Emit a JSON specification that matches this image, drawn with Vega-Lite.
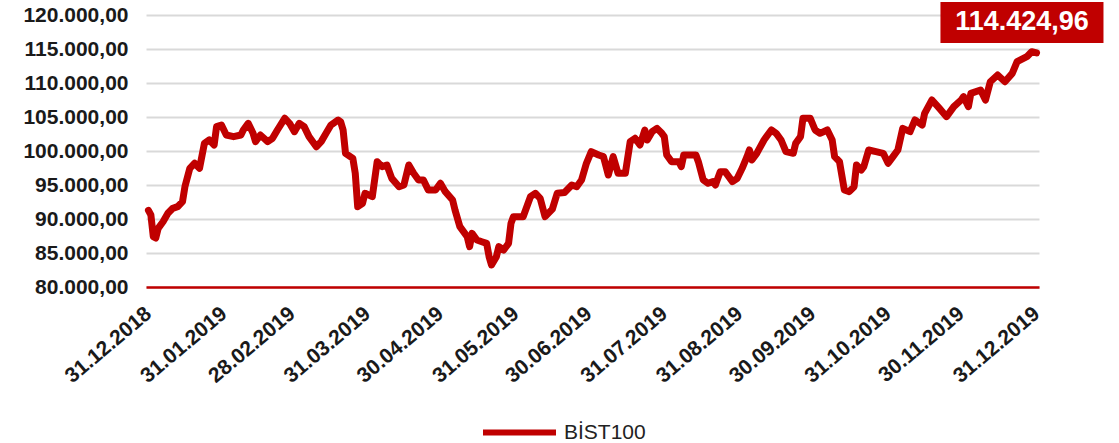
{
  "$schema": "https://vega.github.io/schema/vega-lite/v6.json",
  "width": 893,
  "height": 272,
  "autosize": {"type": "none"},
  "padding": {"left": 146, "top": 15, "right": 80, "bottom": 156},
  "background": "white",
  "config": {
    "view": {"stroke": null},
    "locale": {"number": {"decimal": ",", "thousands": ".", "grouping": [3], "currency": ["", " TL"]}},
    "font": "Liberation Sans"
  },
  "data": {"values": [
    {"date": "2018-12-31", "value": 91270},
    {"date": "2019-01-01", "value": 90600},
    {"date": "2019-01-02", "value": 87400},
    {"date": "2019-01-03", "value": 87200},
    {"date": "2019-01-04", "value": 88630},
    {"date": "2019-01-06", "value": 89600},
    {"date": "2019-01-08", "value": 90840},
    {"date": "2019-01-10", "value": 91570},
    {"date": "2019-01-12", "value": 91810},
    {"date": "2019-01-14", "value": 92550},
    {"date": "2019-01-15", "value": 94750},
    {"date": "2019-01-17", "value": 97450},
    {"date": "2019-01-19", "value": 98190},
    {"date": "2019-01-21", "value": 97450},
    {"date": "2019-01-23", "value": 101130},
    {"date": "2019-01-25", "value": 101620},
    {"date": "2019-01-27", "value": 100880},
    {"date": "2019-01-28", "value": 103580},
    {"date": "2019-01-30", "value": 103820},
    {"date": "2019-02-01", "value": 102350},
    {"date": "2019-02-04", "value": 102110},
    {"date": "2019-02-07", "value": 102350},
    {"date": "2019-02-08", "value": 103090},
    {"date": "2019-02-10", "value": 104070},
    {"date": "2019-02-12", "value": 102600},
    {"date": "2019-02-13", "value": 101380},
    {"date": "2019-02-15", "value": 102350},
    {"date": "2019-02-18", "value": 101380},
    {"date": "2019-02-20", "value": 101870},
    {"date": "2019-02-22", "value": 103090},
    {"date": "2019-02-25", "value": 104810},
    {"date": "2019-02-27", "value": 104070},
    {"date": "2019-03-01", "value": 102840},
    {"date": "2019-03-03", "value": 104070},
    {"date": "2019-03-05", "value": 103580},
    {"date": "2019-03-07", "value": 102110},
    {"date": "2019-03-10", "value": 100630},
    {"date": "2019-03-12", "value": 101380},
    {"date": "2019-03-14", "value": 102600},
    {"date": "2019-03-16", "value": 103820},
    {"date": "2019-03-19", "value": 104560},
    {"date": "2019-03-20", "value": 104300},
    {"date": "2019-03-21", "value": 103090},
    {"date": "2019-03-22", "value": 99660},
    {"date": "2019-03-25", "value": 98930},
    {"date": "2019-03-26", "value": 96720},
    {"date": "2019-03-27", "value": 91810},
    {"date": "2019-03-29", "value": 92310},
    {"date": "2019-03-30", "value": 93780},
    {"date": "2019-04-02", "value": 93280},
    {"date": "2019-04-04", "value": 98430},
    {"date": "2019-04-06", "value": 97700},
    {"date": "2019-04-08", "value": 97940},
    {"date": "2019-04-10", "value": 95980},
    {"date": "2019-04-13", "value": 94750},
    {"date": "2019-04-15", "value": 95000},
    {"date": "2019-04-17", "value": 97940},
    {"date": "2019-04-19", "value": 96720},
    {"date": "2019-04-21", "value": 95740},
    {"date": "2019-04-23", "value": 95740},
    {"date": "2019-04-25", "value": 94260},
    {"date": "2019-04-28", "value": 94260},
    {"date": "2019-04-30", "value": 95250},
    {"date": "2019-05-02", "value": 94020},
    {"date": "2019-05-05", "value": 92790},
    {"date": "2019-05-06", "value": 91320},
    {"date": "2019-05-08", "value": 88870},
    {"date": "2019-05-11", "value": 87400},
    {"date": "2019-05-12", "value": 85930},
    {"date": "2019-05-13", "value": 87890},
    {"date": "2019-05-15", "value": 86910},
    {"date": "2019-05-17", "value": 86660},
    {"date": "2019-05-19", "value": 86420},
    {"date": "2019-05-20", "value": 84460},
    {"date": "2019-05-21", "value": 83240},
    {"date": "2019-05-23", "value": 84460},
    {"date": "2019-05-24", "value": 85930},
    {"date": "2019-05-26", "value": 85440},
    {"date": "2019-05-28", "value": 86420},
    {"date": "2019-05-29", "value": 89360},
    {"date": "2019-05-30", "value": 90340},
    {"date": "2019-06-03", "value": 90340},
    {"date": "2019-06-06", "value": 93280},
    {"date": "2019-06-08", "value": 93780},
    {"date": "2019-06-10", "value": 93040},
    {"date": "2019-06-12", "value": 90340},
    {"date": "2019-06-15", "value": 91450},
    {"date": "2019-06-17", "value": 93780},
    {"date": "2019-06-20", "value": 93900},
    {"date": "2019-06-23", "value": 95000},
    {"date": "2019-06-25", "value": 94750},
    {"date": "2019-06-27", "value": 95740},
    {"date": "2019-06-29", "value": 98190},
    {"date": "2019-07-01", "value": 99900},
    {"date": "2019-07-04", "value": 99410},
    {"date": "2019-07-06", "value": 99170},
    {"date": "2019-07-08", "value": 96470},
    {"date": "2019-07-10", "value": 99170},
    {"date": "2019-07-12", "value": 96720},
    {"date": "2019-07-15", "value": 96720},
    {"date": "2019-07-17", "value": 101380},
    {"date": "2019-07-19", "value": 101870},
    {"date": "2019-07-21", "value": 100880},
    {"date": "2019-07-23", "value": 103090},
    {"date": "2019-07-24", "value": 101620},
    {"date": "2019-07-26", "value": 102840},
    {"date": "2019-07-28", "value": 103330},
    {"date": "2019-07-30", "value": 102600},
    {"date": "2019-07-31", "value": 102110},
    {"date": "2019-08-01", "value": 99410},
    {"date": "2019-08-03", "value": 98430},
    {"date": "2019-08-06", "value": 98430},
    {"date": "2019-08-07", "value": 97700},
    {"date": "2019-08-08", "value": 99410},
    {"date": "2019-08-10", "value": 99410},
    {"date": "2019-08-13", "value": 99410},
    {"date": "2019-08-14", "value": 98430},
    {"date": "2019-08-16", "value": 95740},
    {"date": "2019-08-18", "value": 95250},
    {"date": "2019-08-20", "value": 95490},
    {"date": "2019-08-21", "value": 95000},
    {"date": "2019-08-23", "value": 96960},
    {"date": "2019-08-25", "value": 96960},
    {"date": "2019-08-28", "value": 95490},
    {"date": "2019-08-30", "value": 95980},
    {"date": "2019-09-01", "value": 97450},
    {"date": "2019-09-03", "value": 99170},
    {"date": "2019-09-04", "value": 100150},
    {"date": "2019-09-05", "value": 98680},
    {"date": "2019-09-07", "value": 99660},
    {"date": "2019-09-10", "value": 101620},
    {"date": "2019-09-13", "value": 103090},
    {"date": "2019-09-15", "value": 102600},
    {"date": "2019-09-17", "value": 101620},
    {"date": "2019-09-19", "value": 99900},
    {"date": "2019-09-22", "value": 99660},
    {"date": "2019-09-23", "value": 101130},
    {"date": "2019-09-25", "value": 102110},
    {"date": "2019-09-26", "value": 104810},
    {"date": "2019-09-29", "value": 104810},
    {"date": "2019-10-01", "value": 103090},
    {"date": "2019-10-03", "value": 102600},
    {"date": "2019-10-06", "value": 103090},
    {"date": "2019-10-08", "value": 101620},
    {"date": "2019-10-09", "value": 99170},
    {"date": "2019-10-11", "value": 98430},
    {"date": "2019-10-13", "value": 94260},
    {"date": "2019-10-15", "value": 94020},
    {"date": "2019-10-17", "value": 94750},
    {"date": "2019-10-18", "value": 97940},
    {"date": "2019-10-20", "value": 97210},
    {"date": "2019-10-21", "value": 97700},
    {"date": "2019-10-23", "value": 100150},
    {"date": "2019-10-26", "value": 99900},
    {"date": "2019-10-29", "value": 99660},
    {"date": "2019-10-31", "value": 98190},
    {"date": "2019-11-02", "value": 99170},
    {"date": "2019-11-04", "value": 100150},
    {"date": "2019-11-06", "value": 103330},
    {"date": "2019-11-09", "value": 102840},
    {"date": "2019-11-11", "value": 104560},
    {"date": "2019-11-14", "value": 103820},
    {"date": "2019-11-15", "value": 105540},
    {"date": "2019-11-18", "value": 107500},
    {"date": "2019-11-21", "value": 106300},
    {"date": "2019-11-24", "value": 105050},
    {"date": "2019-11-27", "value": 106520},
    {"date": "2019-11-30", "value": 107500},
    {"date": "2019-12-01", "value": 107990},
    {"date": "2019-12-03", "value": 106520},
    {"date": "2019-12-04", "value": 108480},
    {"date": "2019-12-08", "value": 108970},
    {"date": "2019-12-10", "value": 107500},
    {"date": "2019-12-12", "value": 110190},
    {"date": "2019-12-15", "value": 111180},
    {"date": "2019-12-18", "value": 110190},
    {"date": "2019-12-21", "value": 111420},
    {"date": "2019-12-23", "value": 113130},
    {"date": "2019-12-27", "value": 113870},
    {"date": "2019-12-29", "value": 114600},
    {"date": "2019-12-31", "value": 114424.96}
  ]},
  "encoding": {
    "x": {
      "field": "date",
      "type": "temporal",
      "scale": {"type": "utc", "domain": [{"year": 2018, "month": 12, "date": 30, "utc": true}, {"year": 2020, "month": 1, "date": 1, "utc": true}]},
      "axis": {
        "title": null,
        "grid": false,
        "ticks": false,
        "domain": true,
        "domainColor": "#c00000",
        "domainWidth": 2.5,
        "labelAngle": -40,
        "labelAlign": "right",
        "labelBaseline": "middle",
        "labelPadding": 24,
        "labelOverlap": false,
        "labelBound": false,
        "labelFlush": false,
        "labelFont": "Liberation Sans",
        "labelFontSize": 21,
        "labelFontWeight": "bold",
        "labelColor": "#1a1a1a",
        "labelExpr": "utcFormat(datum.value, '%d.%m.%Y')",
        "values": [
          {"year": 2018, "month": 12, "date": 31, "utc": true},
          {"year": 2019, "month": 1, "date": 31, "utc": true},
          {"year": 2019, "month": 2, "date": 28, "utc": true},
          {"year": 2019, "month": 3, "date": 31, "utc": true},
          {"year": 2019, "month": 4, "date": 30, "utc": true},
          {"year": 2019, "month": 5, "date": 31, "utc": true},
          {"year": 2019, "month": 6, "date": 30, "utc": true},
          {"year": 2019, "month": 7, "date": 31, "utc": true},
          {"year": 2019, "month": 8, "date": 31, "utc": true},
          {"year": 2019, "month": 9, "date": 30, "utc": true},
          {"year": 2019, "month": 10, "date": 31, "utc": true},
          {"year": 2019, "month": 11, "date": 30, "utc": true},
          {"year": 2019, "month": 12, "date": 31, "utc": true}
        ]
      }
    },
    "y": {
      "field": "value",
      "type": "quantitative",
      "scale": {"domain": [80000, 120000], "nice": false, "zero": false},
      "axis": {
        "title": null,
        "values": [80000, 85000, 90000, 95000, 100000, 105000, 110000, 115000, 120000],
        "format": ",.2f",
        "grid": true,
        "gridColor": "#d9d9d9",
        "gridWidth": 2,
        "domain": false,
        "ticks": false,
        "labelPadding": 18,
        "labelFont": "Liberation Sans",
        "labelFontSize": 21,
        "labelFontWeight": "bold",
        "labelColor": "#1a1a1a"
      }
    }
  },
  "layer": [
    {
      "mark": {"type": "line", "strokeWidth": 7, "strokeJoin": "round", "strokeCap": "round"},
      "encoding": {
        "color": {
          "datum": "BİST100",
          "scale": {"range": ["#c00000"]},
          "legend": {
            "orient": "none",
            "legendX": 334,
            "legendY": 378,
            "title": null,
            "symbolType": "stroke",
            "symbolSize": 5329,
            "symbolStrokeWidth": 6,
            "labelFont": "Liberation Sans",
            "labelFontSize": 21,
            "labelColor": "#222222",
            "labelOffset": 5
          }
        }
      }
    },
    {
      "transform": [{"filter": "time(toDate(datum.date)) >= utc(2019, 11, 31)"}],
      "layer": [
        {
          "mark": {"type": "rect", "color": "#c00000", "clip": false},
          "encoding": {
            "x": {"datum": {"year": 2019, "month": 11, "date": 21, "hours": 12, "utc": true}, "type": "temporal"},
            "x2": {"datum": {"year": 2020, "month": 1, "date": 27, "hours": 12, "utc": true}},
            "y": {"datum": 121910, "type": "quantitative"},
            "y2": {"datum": 115880}
          }
        },
        {
          "mark": {"type": "text", "color": "white", "fontSize": 27, "fontWeight": "bold", "font": "Liberation Sans", "align": "center", "baseline": "middle"},
          "encoding": {
            "x": {"datum": {"year": 2019, "month": 12, "date": 25, "utc": true}, "type": "temporal"},
            "y": {"datum": 118900, "type": "quantitative"},
            "text": {"field": "value", "type": "quantitative", "format": ",.2f"}
          }
        }
      ]
    }
  ]
}
